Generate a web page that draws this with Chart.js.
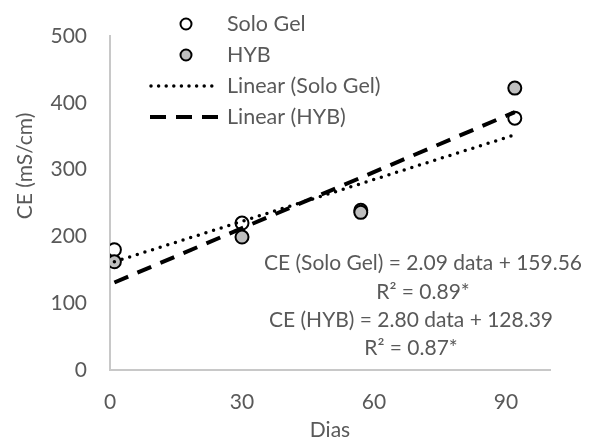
<!DOCTYPE html>
<html>
<head>
<meta charset="utf-8">
<script src="https://cdn.jsdelivr.net/npm/chart.js@4/dist/chart.umd.min.js"></script>
<style>
  html, body { margin: 0; padding: 0; background: #fff; }
  #wrap { width: 592px; height: 441px; }
</style>
</head>
<body>
<div id="wrap"><canvas id="myChart" width="592" height="441"></canvas></div>
<script>
const days = [1, 30, 57, 92];
const soloGel = [180, 220, 239, 377];
const hyb = [162, 199, 236, 422];

// trend line end points
const trendDays = [1, 92];
const soloGelTrend = [162, 352];
const hybTrend = [131, 386];

const xTicks = [0, 30, 60, 90];
const yTicks = [0, 100, 200, 300, 400, 500];

const legendLabels = ["Solo Gel", "HYB", "Linear (Solo Gel)", "Linear (HYB)"];
const equations = [
  ["CE (Solo Gel) = 2.09 data + 159.56", "R² = 0.89*"],
  ["CE (HYB) = 2.80 data + 128.39", "R² = 0.87*"],
];

const FONT = "Lato, Calibri, sans-serif";
const TEXT = "#595959";

function pts(xs, ys) {
  return xs.map((x, i) => ({ x: x, y: ys[i] }));
}

const extras = {
  id: "extras",
  afterDraw(chart) {
    const ctx = chart.ctx;
    const area = chart.chartArea;
    ctx.save();
    ctx.fillStyle = TEXT;
    ctx.font = "21px " + FONT;
    ctx.textBaseline = "middle";

    // axis titles
    ctx.textAlign = "center";
    ctx.fillText("Dias", (area.left + area.right) / 2, 430);
    ctx.save();
    ctx.translate(25, 166);
    ctx.rotate(-Math.PI / 2);
    ctx.fillText("CE (mS/cm)", 0, 0);
    ctx.restore();

    // regression equations
    ctx.fillText(equations[0][0], 423, 263);
    ctx.fillText(equations[0][1], 423, 292);
    ctx.fillText(equations[1][0], 411, 320);
    ctx.fillText(equations[1][1], 411, 348);

    // legend
    const rows = [24, 55, 86, 117];
    ctx.textAlign = "left";
    ctx.font = "21.5px " + FONT;
    legendLabels.forEach((lab, i) => {
      const y = rows[i];
      ctx.fillStyle = TEXT;
      ctx.fillText(lab, 227, y);
      if (i < 2) {
        ctx.beginPath();
        ctx.arc(186, y, 5.5, 0, Math.PI * 2);
        ctx.fillStyle = i === 0 ? "#ffffff" : "#bfbfbf";
        ctx.fill();
        ctx.lineWidth = 2;
        ctx.strokeStyle = "#000";
        ctx.stroke();
      } else {
        ctx.beginPath();
        ctx.moveTo(i === 2 ? 151 : 150, y);
        ctx.lineTo(218, y);
        ctx.strokeStyle = "#000";
        if (i === 2) {
          ctx.lineWidth = 3.5;
          ctx.lineCap = "round";
          ctx.setLineDash([0, 7.6]);
        } else {
          ctx.lineWidth = 4;
          ctx.lineCap = "butt";
          ctx.setLineDash([16, 10]);
        }
        ctx.stroke();
        ctx.setLineDash([]);
      }
    });
    ctx.restore();
  },
};

function createChart() {
  const ctx = document.getElementById("myChart").getContext("2d");
  new Chart(ctx, {
    type: "scatter",
    data: {
      datasets: [
        {
          label: "Linear (Solo Gel)",
          type: "line",
          data: pts(trendDays, soloGelTrend),
          borderColor: "#000",
          borderWidth: 3.5,
          borderDash: [0, 8],
          borderCapStyle: "round",
          pointRadius: 0,
          fill: false,
          order: 0,
        },
        {
          label: "Linear (HYB)",
          type: "line",
          data: pts(trendDays, hybTrend),
          borderColor: "#000",
          borderWidth: 4,
          borderDash: [15, 10],
          pointRadius: 0,
          fill: false,
          order: 0,
        },
        {
          label: "HYB",
          data: pts(days, hyb),
          backgroundColor: "#bfbfbf",
          borderColor: "#000",
          borderWidth: 2,
          pointRadius: 6.5,
          order: 1,
        },
        {
          label: "Solo Gel",
          data: pts(days, soloGel),
          backgroundColor: "#ffffff",
          borderColor: "#000",
          borderWidth: 2,
          pointRadius: 6.5,
          order: 2,
        },
      ],
    },
    options: {
      responsive: false,
      animation: false,
      layout: { padding: { left: 0, top: 36, right: 42, bottom: 0 } },
      plugins: {
        legend: { display: false },
        tooltip: { enabled: false },
      },
      scales: {
        x: {
          type: "linear",
          min: 0,
          max: 100,
          afterFit: (s) => { s.height = 71; },
          afterBuildTicks: (s) => { s.ticks = xTicks.map((v) => ({ value: v })); },
          grid: { display: false, drawTicks: false },
          border: { display: true, color: "#c8c8c8", width: 2 },
          ticks: { color: TEXT, font: { family: FONT, size: 21 }, padding: 20 },
        },
        y: {
          min: 0,
          max: 500,
          afterFit: (s) => { s.width = 110; },
          afterBuildTicks: (s) => { s.ticks = yTicks.map((v) => ({ value: v })); },
          grid: { display: false, drawTicks: false },
          border: { display: true, color: "#c8c8c8", width: 2 },
          ticks: { color: TEXT, font: { family: FONT, size: 21 }, padding: 23 },
        },
      },
    },
    plugins: [extras],
  });
}

createChart();
</script>
</body>
</html>
